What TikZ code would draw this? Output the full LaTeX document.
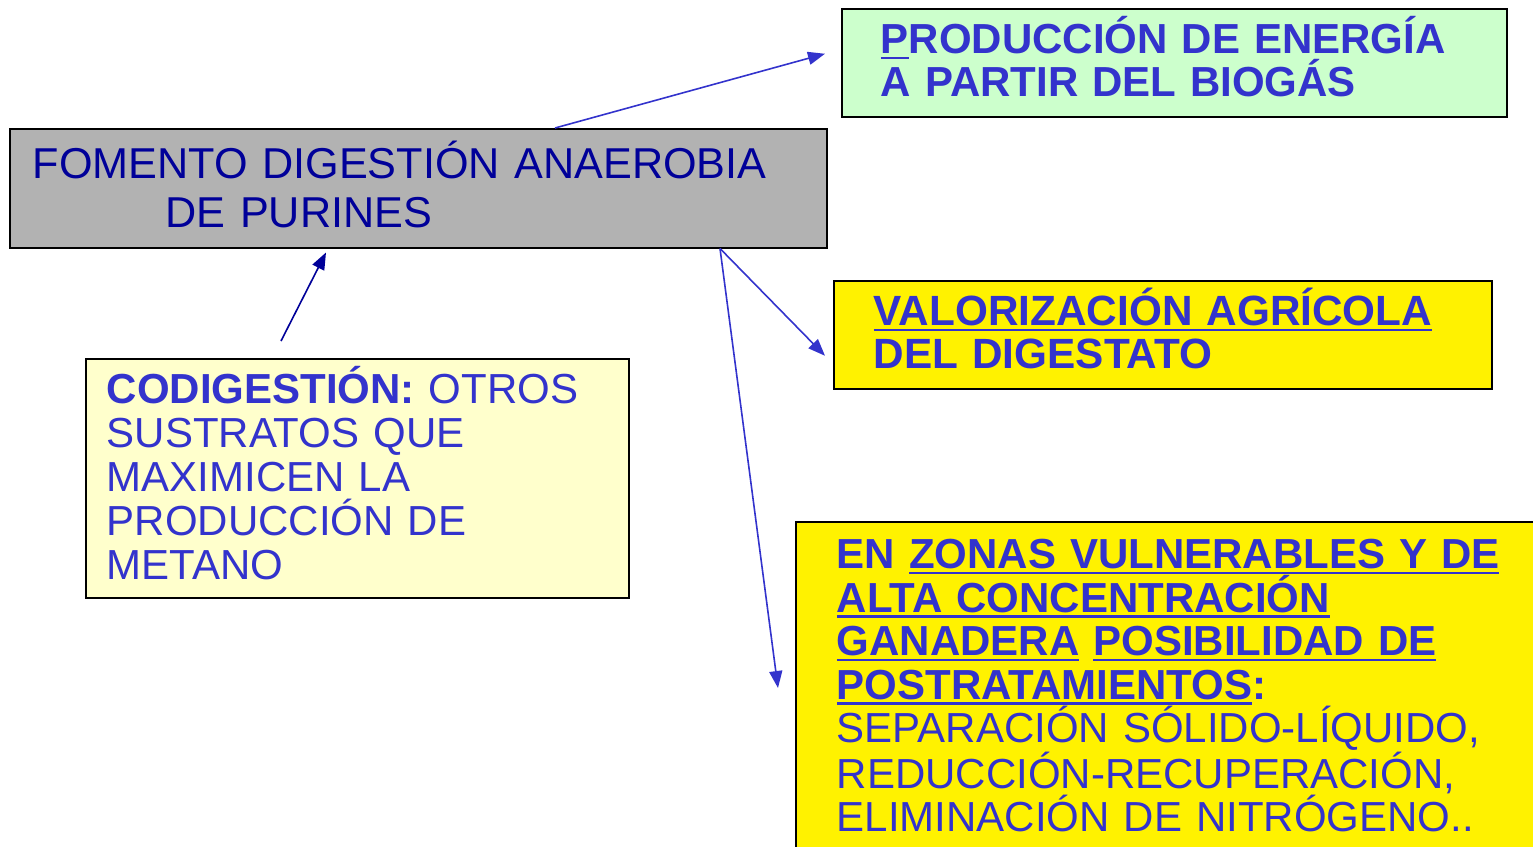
\documentclass[tikz,border=0pt]{standalone}
\usepackage{fontspec}
\setmainfont{Liberation Sans}
\usetikzlibrary{positioning}
\usetikzlibrary{arrows.meta}
\definecolor{textblue}{HTML}{3333CC}
\definecolor{navy}{HTML}{000099}
\definecolor{greenfill}{HTML}{CCFFCC}
\definecolor{grayfill}{HTML}{B2B2B2}
\definecolor{paleyellow}{HTML}{FFFFCC}
\newcommand{\ulin}[1]{\leavevmode\setbox0\hbox{#1}\rlap{\rule[-5.5pt]{\wd0}{2.5pt}}\box0\relax}
\newcommand{\boxfont}{\fontsize{42}{44}\selectfont}
\tikzset{
  box/.style={draw=black, line width=1.5pt, anchor=north west, inner sep=0pt,
    align=left, text=textblue, font=\boxfont,
    execute at begin node={\parindent=0pt}},
  arr/.style={draw=textblue, line width=1.6pt, -{Triangle[length=17pt,width=13pt]}}
}
\begin{document}
\begin{tikzpicture}[x=1pt,y=-1pt]
		\useasboundingbox (0,0) rectangle (1533,846);
		\clip (0,0) rectangle (1533,846);
		\node[box, fill=grayfill, text=navy, minimum width=817pt, minimum height=119pt,
		  text width=771pt, text height=50pt, text depth=69pt,
		  font=\fontsize{43.2}{48.5}\selectfont] (fomento) at (9,128)
		  {FOMENTO DIGESTIÓN ANAEROBIA\\\hspace*{133pt}DE PURINES};
		\node[box, fill=greenfill, minimum width=665pt, minimum height=108pt,
		  text width=587pt, text height=45pt, text depth=63pt,
		  font=\fontsize{42}{43}\selectfont] (produccion) at (841,8)
		  {\bfseries\ulin{P}RODUCCIÓN DE ENERGÍA\\\bfseries A PARTIR DEL BIOGÁS};
		\node[box, fill=yellow, minimum width=658pt, minimum height=108pt,
		  text width=578pt, text height=45pt, text depth=63pt,
		  font=\fontsize{42.3}{43}\selectfont] (valorizacion) at (833,280)
		  {\bfseries\ulin{VALORIZACIÓN AGRÍCOLA}\\\bfseries DEL DIGESTATO};
		\node[box, fill=paleyellow, minimum width=543pt, minimum height=239pt,
		  text width=501pt, text height=45pt, text depth=194pt] (codigestion) at (85,358)
		  {{\bfseries CODIGESTIÓN:} OTROS\\SUSTRATOS QUE\\MAXIMICEN LA\\PRODUCCIÓN DE\\METANO};
		\node[box, fill=yellow, minimum width=900pt, minimum height=400pt,
		  text width=818pt, text height=47pt, text depth=353pt,
		  font=\fontsize{42}{43.5}\selectfont] (zonas) at (795,521)
		  {\bfseries EN \ulin{ZONAS VULNERABLES Y DE}\\
		   \bfseries\ulin{ALTA CONCENTRACIÓN}\\
		   \bfseries\ulin{GANADERA} \ulin{POSIBILIDAD DE}\\
		   \bfseries\ulin{POSTRATAMIENTOS}:\\
		   \mdseries SEPARACIÓN SÓLIDO-LÍQUIDO,\\
		   REDUCCIÓN-RECUPERACIÓN,\\
		   ELIMINACIÓN DE NITRÓGENO..};
		\draw[arr] ([xshift=546pt]fomento.north west) -- ([xshift=-16pt,yshift=9pt]produccion.west);
		\draw[arr] ([xshift=711pt]fomento.south west) -- ([xshift=-8pt,yshift=-21pt]valorizacion.west);
		\draw[arr] ([xshift=711pt]fomento.south west) -- ([xshift=-17pt,yshift=-167pt]zonas.north west);
		\draw[arr, draw=navy] ([xshift=196pt,yshift=17pt]codigestion.north west) -- ([xshift=317pt,yshift=-4pt]fomento.south west);
	\end{tikzpicture}
\end{document}
